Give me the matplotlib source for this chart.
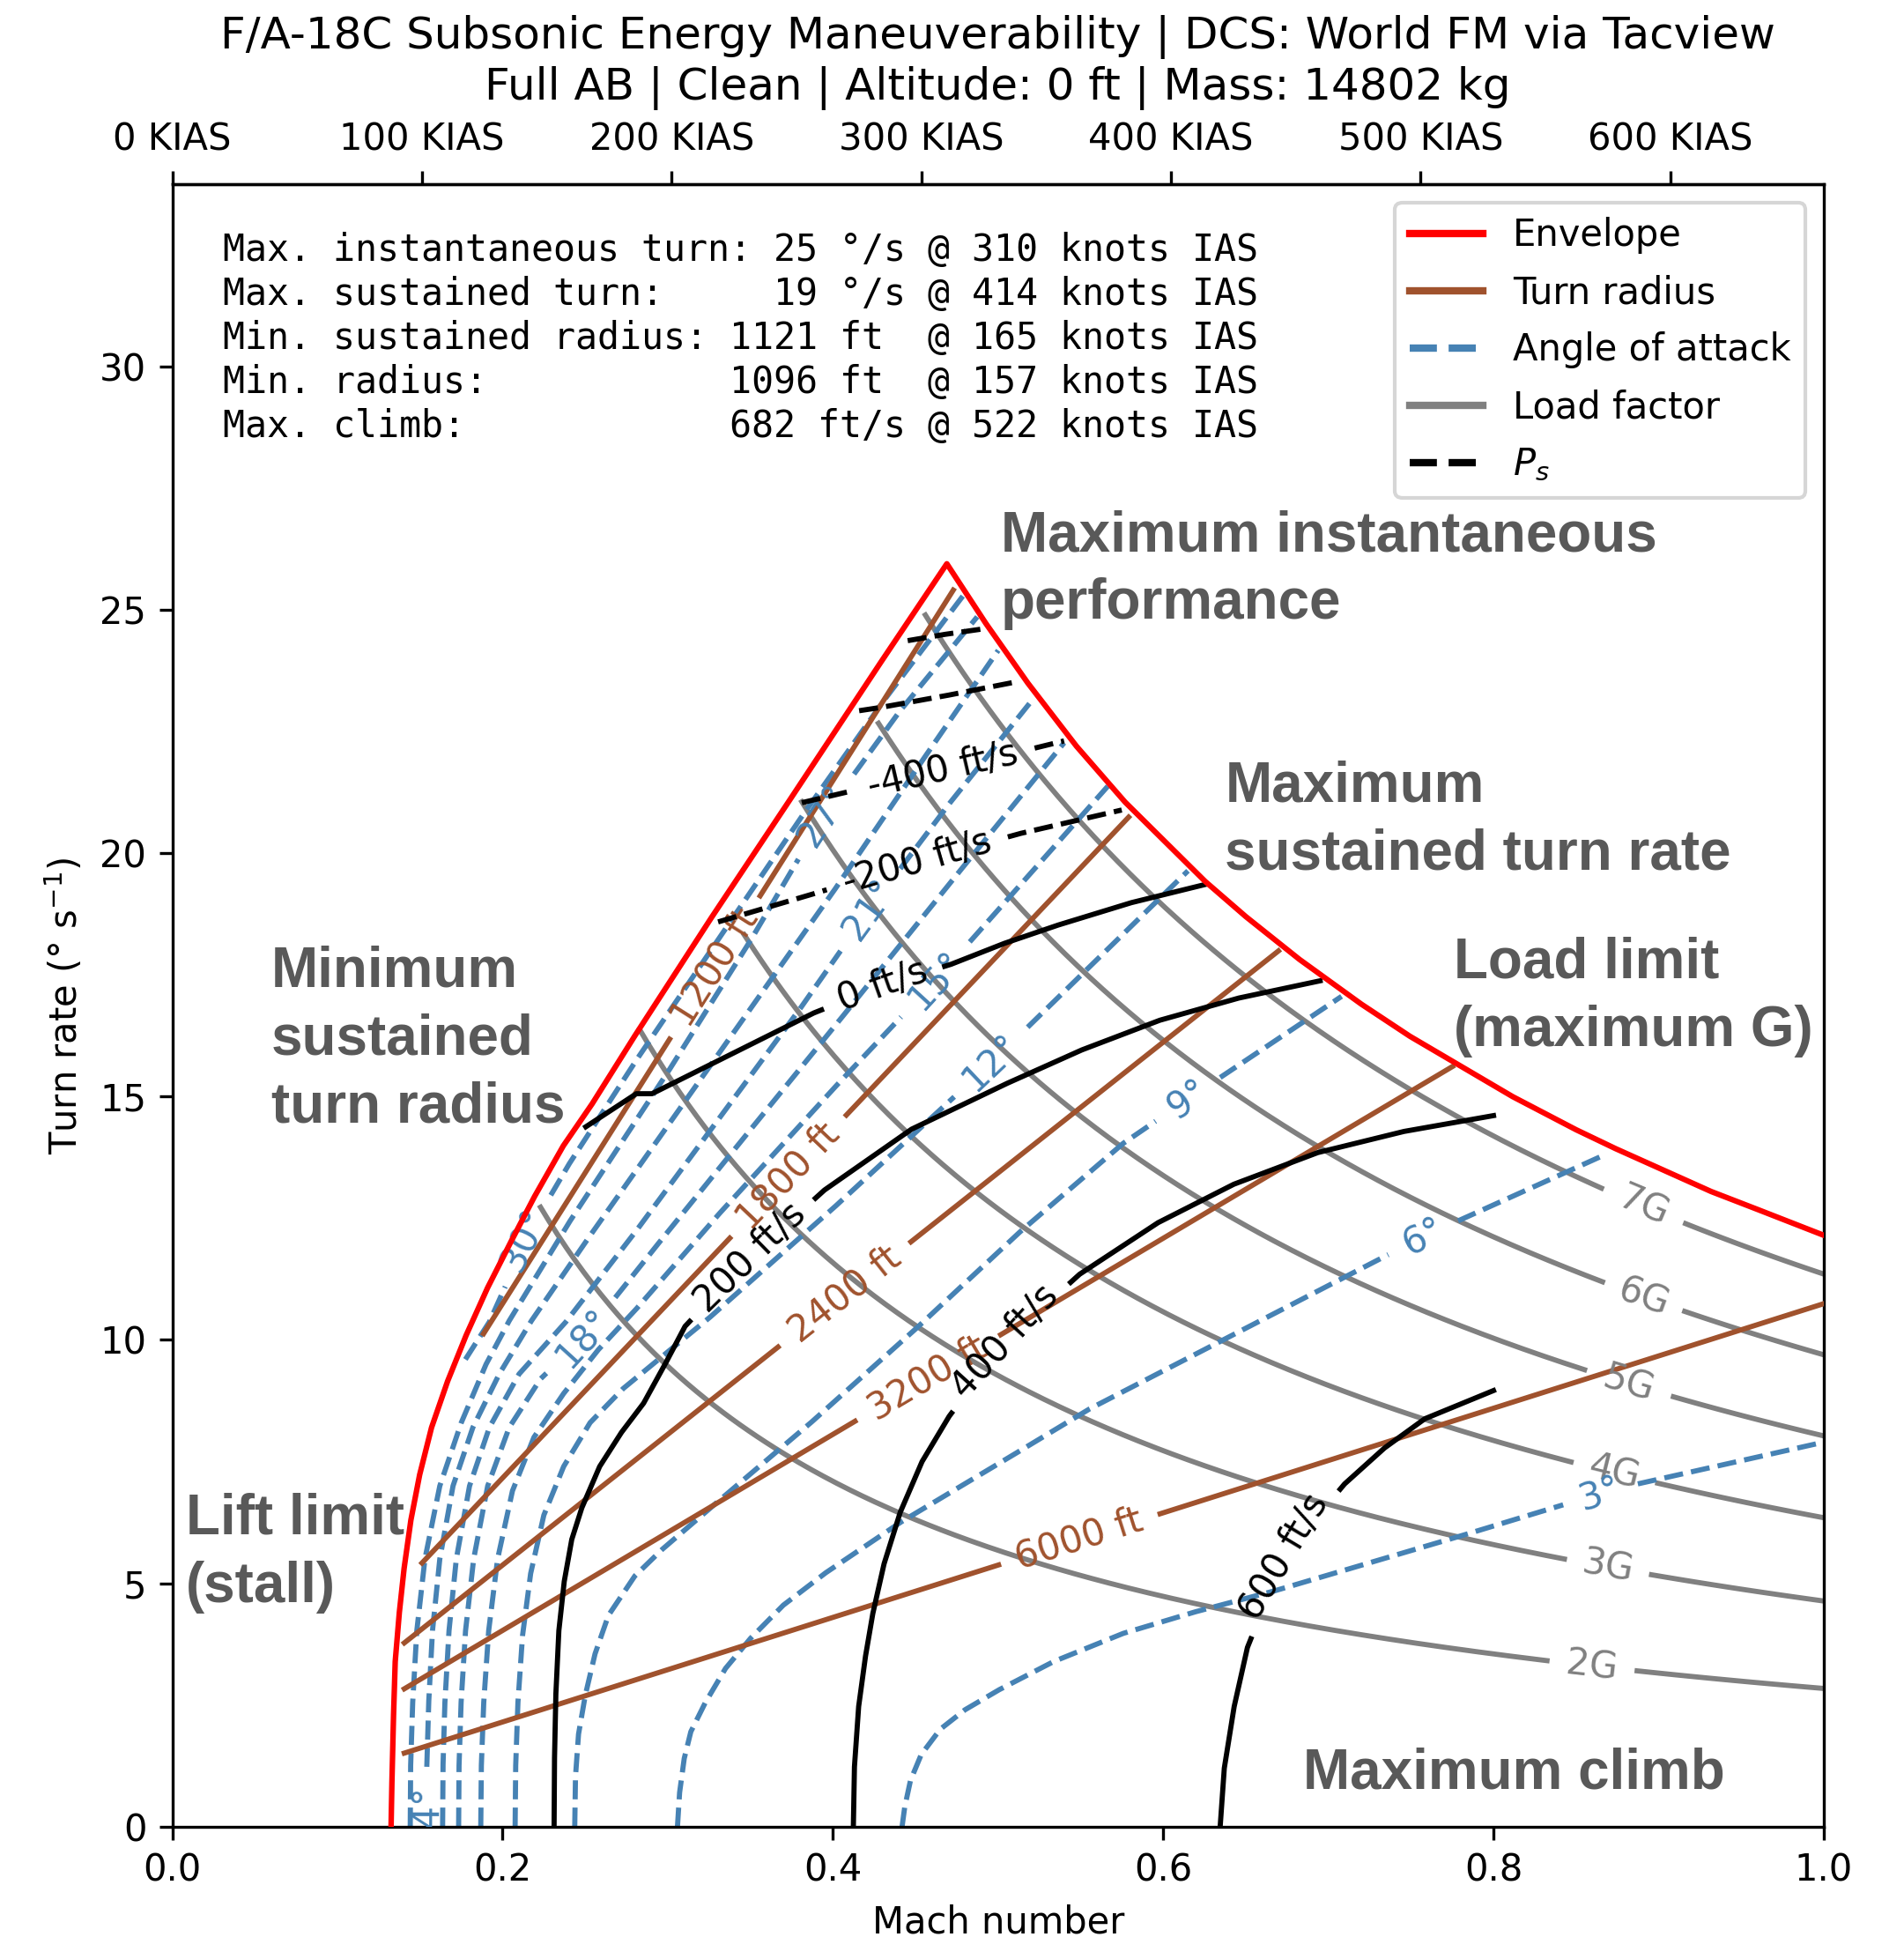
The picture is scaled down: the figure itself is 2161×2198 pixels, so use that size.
import numpy as np
import matplotlib
matplotlib.use("Agg")
import matplotlib.pyplot as plt
from matplotlib.lines import Line2D

# ----------------------------------------------------------------- data
TITLE = ("F/A-18C Subsonic Energy Maneuverability | DCS: World FM via Tacview\n"
         "Full AB | Clean | Altitude: 0 ft | Mass: 14802 kg")

ENVELOPE_MACH = [0.1325, 0.1330, 0.1340, 0.1350, 0.1375, 0.1404, 0.1445, 0.1498, 0.1570, 0.1667,
                 0.1780, 0.1909, 0.2051, 0.2194, 0.2368, 0.2542, 0.2801, 0.3265, 0.3730, 0.4295,
                 0.4690, 0.4927, 0.5180, 0.5475, 0.5770, 0.6255, 0.6500, 0.6825, 0.7200, 0.7494,
                 0.8116, 0.8500, 0.8740, 0.9318, 0.9600, 1.0000]
ENVELOPE_TURN = [0.0, 0.9, 2.3, 3.39, 4.4, 5.31, 6.3, 7.23, 8.2, 9.15,
                 10.1, 11.07, 12.02, 12.95, 13.99, 14.85, 16.25, 18.68, 21.05, 23.95,
                 25.95, 24.72, 23.50, 22.20, 21.05, 19.42, 18.70, 17.82, 16.90, 16.24,
                 15.00, 14.32, 13.93, 13.05, 12.68, 12.15]

# turn radius lines (ft) with their start / end Mach and label Mach
RADIUS_FT = [1200, 1800, 2400, 3200, 6000]
RADIUS_START = [0.1885, 0.1512, 0.1405, 0.1405, 0.1405]
RADIUS_END = [0.4729, 0.5791, 0.6698, 0.7752, 1.0]
RADIUS_LABEL = [0.3284, 0.3727, 0.4071, 0.4577, 0.5494]

# load factor lines
G_LEVELS = [2, 3, 4, 5, 6, 7]
G_START = [0.223, 0.283, 0.3463, 0.3812, 0.4276, 0.456]
G_LABEL = [0.860, 0.8694, 0.874, 0.881, 0.8902, 0.8914]

# angle of attack lines: (Mach, turn rate) points
AOA_LEVELS = [3, 6, 9, 12, 15, 18, 21, 24, 27, 30]
AOA_MACH = {
    3: [0.4419, 0.4435, 0.4470, 0.4535, 0.4650, 0.4800, 0.5000, 0.5336, 0.5758, 0.6180,
        0.6660, 0.7770, 0.8740, 1.0],
    6: [0.3059, 0.3072, 0.3100, 0.3140, 0.3228, 0.3350, 0.3502, 0.3700, 0.3950, 0.4408,
        0.5000, 0.5547, 0.6534, 0.7572, 0.8670],
    9: [0.2437, 0.2441, 0.2460, 0.2499, 0.2560, 0.2641, 0.2801, 0.2961, 0.3228, 0.3860,
        0.4493, 0.5126, 0.5758, 0.6150, 0.7080],
    12: [0.2076, 0.2079, 0.2092, 0.2120, 0.2170, 0.2250, 0.2370, 0.2530, 0.2730, 0.2980,
         0.3250, 0.4000, 0.4960, 0.6150],
    15: [0.1868, 0.1871, 0.1885, 0.1915, 0.1970, 0.2060, 0.2190, 0.2370, 0.2580, 0.2800,
         0.3300, 0.4000, 0.4625, 0.5665],
    18: [0.1734, 0.1736, 0.1748, 0.1775, 0.1825, 0.1910, 0.2040, 0.2230, 0.2490, 0.2900,
         0.3400, 0.4000, 0.4700, 0.5400],
    21: [0.1637, 0.1639, 0.1650, 0.1675, 0.1720, 0.1800, 0.1920, 0.2100, 0.2383, 0.2800,
         0.3300, 0.3800, 0.4223, 0.4700, 0.5200],
    24: [0.1539, 0.1541, 0.1552, 0.1575, 0.1620, 0.1700, 0.1820, 0.1980, 0.2170, 0.2500,
         0.3000, 0.3500, 0.4000, 0.4500, 0.5001],
    27: [0.1441, 0.1443, 0.1455, 0.1480, 0.1530, 0.1620, 0.1750, 0.1900, 0.2036, 0.2400,
         0.3000, 0.3500, 0.3947, 0.4400, 0.4874],
    30: [0.1775, 0.1850, 0.1920, 0.2030, 0.2134, 0.2400, 0.2800, 0.3300, 0.3800, 0.4300, 0.4790],
}
AOA_TURN = {
    3: [0.0, 0.40, 0.95, 1.48, 2.00, 2.40, 2.80, 3.39, 3.97, 4.40,
        4.83, 5.94, 6.94, 7.90],
    6: [0.0, 0.70, 1.40, 1.95, 2.55, 3.25, 3.87, 4.55, 5.20, 6.25,
        7.45, 8.57, 10.30, 12.12, 13.80],
    9: [0.0, 1.00, 1.90, 2.67, 3.55, 4.34, 5.15, 5.68, 6.46, 8.28,
        10.20, 12.20, 14.04, 14.95, 17.06],
    12: [0.0, 1.20, 2.50, 3.90, 5.20, 6.40, 7.40, 8.30, 9.00, 9.70,
         10.45, 12.70, 15.70, 19.64],
    15: [0.0, 1.20, 2.50, 4.00, 5.50, 6.90, 8.00, 8.90, 9.80, 10.60,
         12.55, 15.15, 17.40, 21.38],
    18: [0.0, 1.20, 2.50, 4.00, 5.50, 7.00, 8.20, 9.20, 10.05, 11.80,
         13.90, 16.40, 19.35, 22.27],
    21: [0.0, 1.20, 2.50, 4.00, 5.50, 7.00, 8.20, 9.30, 10.37, 12.20,
         14.50, 16.80, 18.85, 21.00, 23.12],
    24: [0.0, 1.20, 2.50, 4.00, 5.50, 7.00, 8.20, 9.30, 10.37, 12.00,
         14.40, 16.80, 19.20, 21.70, 24.17],
    27: [0.0, 1.20, 2.50, 4.00, 5.50, 7.00, 8.30, 9.50, 10.37, 12.40,
         15.50, 18.20, 20.78, 22.90, 24.86],
    30: [9.60, 10.00, 10.37, 11.20, 12.06, 13.60, 15.70, 18.20, 20.70, 23.10, 25.30],
}
AOA_LABEL_POS = {3: (0.8648, 6.85), 6: (0.7572, 12.12), 9: (0.615, 14.95),
                 12: (0.496, 15.70), 15: (0.4625, 17.4), 18: (0.249, 10.05),
                 21: (0.4223, 18.85), 24: (0.1539, 0.20), 27: (0.3947, 20.78),
                 30: (0.2134, 12.06)}

# specific excess power contours (ft/s)
PS_LEVELS = [-800, -600, -400, -200, 0, 200, 400, 600]
PS_MACH = {
    -800: [0.4453, 0.4680, 0.4906],
    -600: [0.4159, 0.4294, 0.4700, 0.5106],
    -400: [0.3812, 0.4200, 0.4680, 0.5100, 0.5400],
    -200: [0.3305, 0.3885, 0.4508, 0.5138, 0.5749],
    0: [0.2504, 0.2810, 0.2905, 0.3885, 0.4300, 0.4716, 0.5030, 0.5349, 0.5800, 0.6255],
    200: [0.2312, 0.2314, 0.2322, 0.2340, 0.2372, 0.2419, 0.2480, 0.2588, 0.2720, 0.2854, 0.2979,
          0.3105, 0.3500, 0.3949, 0.4476, 0.5040, 0.5500, 0.5980, 0.6450, 0.6950],
    400: [0.4124, 0.4130, 0.4155, 0.4195, 0.4240, 0.4310, 0.4408, 0.4540, 0.4704, 0.5040, 0.5494,
          0.5969, 0.6428, 0.6936, 0.7450, 0.8000],
    600: [0.6345, 0.6370, 0.6428, 0.6510, 0.6730, 0.7098, 0.7340, 0.7584, 0.8000],
}
PS_TURN = {
    -800: [24.37, 24.50, 24.61],
    -600: [22.93, 23.00, 23.25, 23.52],
    -400: [21.04, 21.35, 21.72, 22.06, 22.31],
    -200: [18.59, 19.17, 19.82, 20.41, 20.89],
    0: [14.38, 15.06, 15.06, 16.72, 17.28, 17.72, 18.14, 18.51, 18.98, 19.36],
    200: [0.0, 1.30, 2.67, 4.00, 5.01, 5.90, 6.55, 7.40, 8.10, 8.70, 9.47,
          10.28, 11.70, 13.08, 14.33, 15.25, 15.95, 16.57, 17.02, 17.38],
    400: [0.0, 1.20, 2.44, 3.45, 4.35, 5.40, 6.46, 7.50, 8.43, 9.96, 11.35,
          12.41, 13.20, 13.85, 14.28, 14.61],
    600: [0.0, 1.20, 2.44, 3.68, 5.55, 7.04, 7.78, 8.38, 8.96],
}
PS_LABEL_POS = {-400: (0.466, 21.72), -200: (0.4508, 19.82), 0: (0.430, 17.28),
                200: (0.350, 11.70), 400: (0.504, 9.96), 600: (0.673, 5.55)}

KIAS_TICKS = [0, 100, 200, 300, 400, 500, 600]

INFO_TEXT = ("Max. instantaneous turn: 25 °/s @ 310 knots IAS\n"
             "Max. sustained turn:     19 °/s @ 414 knots IAS\n"
             "Min. sustained radius: 1121 ft  @ 165 knots IAS\n"
             "Min. radius:           1096 ft  @ 157 knots IAS\n"
             "Max. climb:            682 ft/s @ 522 knots IAS")

ANNOTATIONS = [
    ("Maximum instantaneous\nperformance", 0.5015, 25.82),
    ("Maximum\nsustained turn rate", 0.6375, 20.68),
    ("Load limit\n(maximum G)", 0.7758, 17.05),
    ("Minimum\nsustained\nturn radius", 0.0598, 16.17),
    ("Lift limit\n(stall)", 0.0082, 5.62),
    ("Maximum climb", 0.6846, 1.09),
]

# physical constants used to draw the iso-lines
SOUND_MS = 343.0        # m/s
SOUND_KT = 661.47       # kt (for KIAS axis)
G0 = 9.81
FT = 0.3048

# ----------------------------------------------------------------- figure
DPI = 300
fig = plt.figure(figsize=(2161 / DPI, 2198 / DPI), dpi=DPI)
ax = fig.add_axes([195.5 / 2161, 1 - 2072.7 / 2198, (2070 - 195.5) / 2161, (2072.7 - 209) / 2198])
ax.set_xlim(0, 1)
ax.set_ylim(0, 33.75)
renderer = fig.canvas.get_renderer()

LW = 1.4
C_RED, C_BROWN, C_BLUE, C_GRAY = "red", "sienna", "steelblue", "gray"


def draw_line(xs, ys, color, ls="-", label=None, label_pos=None, text_color=None,
              pad=20, clip_text=False, zorder=2):
    xs = np.asarray(xs, float)
    ys = np.asarray(ys, float)
    disp = ax.transData.transform(np.column_stack([xs, ys]))
    pts = [disp[0]]
    for a, b in zip(disp[:-1], disp[1:]):
        n = max(2, int(np.hypot(*(b - a)) / 1.5))
        t = np.linspace(0, 1, n)[1:]
        pts.extend(a + (b - a) * t[:, None])
    dense = np.array(pts)
    keep = np.ones(len(dense), bool)
    if label is not None:
        c = ax.transData.transform(label_pos)
        d = np.hypot(*(dense - c).T)
        i = int(np.argmin(d))
        c = dense[i]
        d = np.hypot(*(dense - c).T)
        j0, j1 = max(i - 12, 0), min(i + 12, len(dense) - 1)
        v = dense[j1] - dense[j0]
        ang = np.degrees(np.arctan2(v[1], v[0]))
        if ang > 90:
            ang -= 180
        if ang < -90:
            ang += 180
        cx, cy = ax.transData.inverted().transform(c)
        txt = ax.text(cx, cy, label, color=text_color or color, fontsize=10,
                      ha="center", va="center", rotation=0, zorder=zorder + 1,
                      clip_on=clip_text)
        w = txt.get_window_extent(renderer).width
        txt.set_rotation(ang)
        txt.set_rotation_mode("anchor")
        keep = d > w / 2 + pad
    data = ax.transData.inverted().transform(dense)
    idx = np.flatnonzero(keep)
    if len(idx) == 0:
        return
    splits = np.flatnonzero(np.diff(idx) > 1) + 1
    for run in np.split(idx, splits):
        if len(run) < 2:
            continue
        ax.plot(data[run, 0], data[run, 1], color=color, ls=ls, lw=LW, zorder=zorder)


# envelope
ax.plot(ENVELOPE_MACH, ENVELOPE_TURN, color=C_RED, lw=1.5, zorder=5)

# turn radius
for r, m0, m1, ml in zip(RADIUS_FT, RADIUS_START, RADIUS_END, RADIUS_LABEL):
    k = SOUND_MS / (r * FT) * 180 / np.pi
    draw_line([m0, m1], [k * m0, k * m1], C_BROWN, "-", f"{r} ft", (ml, k * ml), zorder=3)

# load factor
for n, m0, ml in zip(G_LEVELS, G_START, G_LABEL):
    m = np.linspace(m0, 1.0, 300)
    tr = G0 * np.sqrt(n ** 2 - 1) / (m * SOUND_MS) * 180 / np.pi
    trl = G0 * np.sqrt(n ** 2 - 1) / (ml * SOUND_MS) * 180 / np.pi
    draw_line(m, tr, C_GRAY, "-", f"{n}G", (ml, trl), zorder=2)

# angle of attack
for a in AOA_LEVELS:
    draw_line(AOA_MACH[a], AOA_TURN[a], C_BLUE, "--", f"{a}°", AOA_LABEL_POS[a],
              clip_text=(a == 24), zorder=2)

# Ps
for p in PS_LEVELS:
    lab = f"{p} ft/s" if p in PS_LABEL_POS else None
    draw_line(PS_MACH[p], PS_TURN[p], "black", "--" if p < 0 else "-", lab,
              PS_LABEL_POS.get(p), zorder=4)

# annotations
for txt, x, y in ANNOTATIONS:
    ax.text(x, y, txt, fontsize=15.3, fontweight="bold", family="Liberation Sans",
            color="#595959", ha="left", va="center", linespacing=1.36, zorder=6)

ax.text(0.0306, 0.971, INFO_TEXT, transform=ax.transAxes, family="DejaVu Sans Mono",
        fontsize=10, ha="left", va="top", linespacing=1.24, zorder=6)

handles = [Line2D([], [], color=C_RED, lw=2, label="Envelope"),
           Line2D([], [], color=C_BROWN, lw=2, label="Turn radius"),
           Line2D([], [], color=C_BLUE, lw=2, ls="--", label="Angle of attack"),
           Line2D([], [], color=C_GRAY, lw=2, label="Load factor"),
           Line2D([], [], color="black", lw=2, ls="--", label="$P_s$")]
leg = ax.legend(handles=handles, loc="upper right", fontsize=10, labelspacing=0.55)
leg.set_zorder(10)

ax.set_xticks([0, 0.2, 0.4, 0.6, 0.8, 1.0])
ax.set_yticks([0, 5, 10, 15, 20, 25, 30])
ax.set_xlabel("Mach number")
ax.set_ylabel("Turn rate (° s$^{-1}$)")

sec = ax.secondary_xaxis("top", functions=(lambda m: m * SOUND_KT, lambda k: k / SOUND_KT))
sec.set_xticks(KIAS_TICKS)
sec.set_xticklabels([f"{k} KIAS" for k in KIAS_TICKS])

ax.set_title(TITLE, fontsize=12)

fig.savefig("out.png", dpi=DPI)
